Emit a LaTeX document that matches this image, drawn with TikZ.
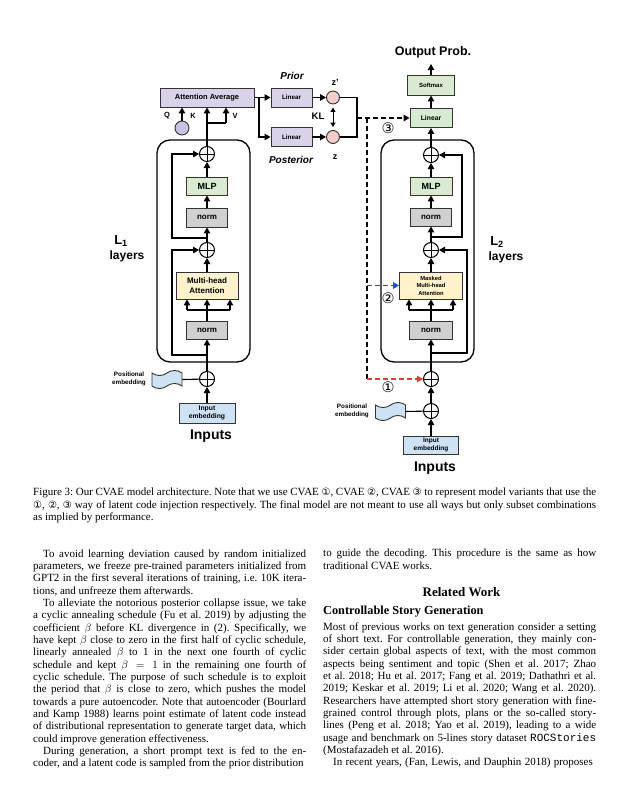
\documentclass[tikz,border=0pt]{standalone}
\usepackage{fontspec}
\setmainfont{Liberation Serif}
\setsansfont{Liberation Sans}
\setmonofont{Liberation Mono}
\newfontfamily\dejavu{DejaVu Sans}
\usetikzlibrary{arrows.meta,shapes.symbols}
\definecolor{lav}{HTML}{D9D2E9}
\definecolor{lavc}{HTML}{C9C2E2}
\definecolor{pinkc}{HTML}{F4CCCC}
\definecolor{grn}{HTML}{D9EAD3}
\definecolor{gry}{HTML}{D0D0D0}
\definecolor{yel}{HTML}{FFF2CC}
\definecolor{blu}{HTML}{CFE2F3}
\definecolor{bdr}{HTML}{333333}
\definecolor{redd}{HTML}{E53935}
\definecolor{bluu}{HTML}{1A4FD6}
\newcommand\bodyf{\fontsize{11}{12.35}\selectfont}
\newcommand\cnum[1]{{\dejavu\fontsize{10}{10}\selectfont #1}}
\frenchspacing
\tikzset{
  bx/.style={draw=bdr, line width=0.9pt, inner sep=0pt, font=\sffamily\bfseries, align=center},
  oplus/.style={circle, draw, line width=1pt, fill=white, minimum size=15pt, inner sep=0pt,
    path picture={\draw[line width=1pt] (path picture bounding box.north) -- (path picture bounding box.south)
      (path picture bounding box.west) -- (path picture bounding box.east);}},
  arr/.style={line width=1.1pt, -{Triangle[length=6pt,width=6.5pt]}},
  ln/.style={line width=1.1pt},
  dsh/.style={dash pattern=on 5pt off 3pt},
  cont/.style={draw, line width=1.3pt, rounded corners=13pt, minimum width=93pt, minimum height=222pt, inner sep=0pt},
  flag/.style={tape, draw=bdr, fill=blu, line width=0.9pt, minimum width=30pt, minimum height=18pt, tape bend height=5pt, inner sep=0pt},
  lbl/.style={inner sep=0pt, font=\sffamily\bfseries},
  txt/.style={inner sep=0pt, anchor=base west, font=\bodyf},
  cir/.style={inner sep=0pt}
}
\begin{document}
\frenchspacing
\begin{tikzpicture}[x=1pt,y=-1pt]
\fill[white] (0,0) rectangle (627,792);
\useasboundingbox (0,0) rectangle (627,792);

% ---------------- Encoder ----------------
\node[cont] (encC) at (203.5,251) {};
\node[bx, fill=lav, minimum width=94pt, minimum height=19pt, font=\sffamily\bfseries\fontsize{7.5}{8}\selectfont] (att) at (207,97.5) {Attention Average};
\node[circle, draw=bdr, line width=0.9pt, fill=lavc, minimum size=14pt, inner sep=0pt] (qk) at (182,128) {};
\node[oplus] (pE1) at (207,154) {};
\node[bx, fill=grn, minimum width=41pt, minimum height=18pt, font=\sffamily\bfseries\fontsize{9}{10}\selectfont] (mlpE) at (207,186) {MLP};
\node[bx, fill=gry, minimum width=41pt, minimum height=19pt, font=\sffamily\bfseries\fontsize{8}{9}\selectfont] (normE2) at (207,217.5) {norm};
\node[oplus] (pE2) at (207,250) {};
\node[bx, fill=yel, minimum width=62pt, minimum height=27pt, font=\sffamily\bfseries\fontsize{8}{10}\selectfont] (mhaE) at (207,285.5) {Multi-head\\Attention};
\node[bx, fill=gry, minimum width=41pt, minimum height=18pt, font=\sffamily\bfseries\fontsize{8}{9}\selectfont] (normE1) at (207,330) {norm};
\node[oplus] (pE0) at (207,379) {};
\node[flag] (peE) at (167,379.5) {};
\node[bx, fill=blu, minimum width=56pt, minimum height=20pt, font=\sffamily\bfseries\fontsize{6.8}{8.2}\selectfont] (inE) at (207,413) {Input\\embedding};

\coordinate (fE) at (207,310);
\coordinate (fEl) at (187,310);
\coordinate (fEr) at (230,310);
\coordinate (rE1) at (207,355);
\coordinate (rE1a) at (172,355);
\coordinate (rE2) at (207,238);
\coordinate (rE2a) at (172,238);
\coordinate (vb) at (207,123);
\coordinate (vb2) at (226,123);

\draw[arr] (inE) -- (pE0);
\draw[ln] (peE.east) -- (pE0);
\draw[arr] (pE0) -- (normE1);
\draw[ln] (normE1) -- (fE);
\draw[ln] (fEl) -- (fEr);
\draw[arr] (fEl) -- (fEl |- mhaE.south);
\draw[arr] (fE) -- (mhaE);
\draw[arr] (fEr) -- (fEr |- mhaE.south);
\draw[arr] (mhaE) -- (pE2);
\draw[arr] (pE2) -- (normE2);
\draw[arr] (normE2) -- (mlpE);
\draw[arr] (mlpE) -- (pE1);
\draw[arr] (pE1) -- (att);
\draw[arr] (rE1) -- (rE1a) |- (pE2.west);
\draw[arr] (rE2) -- (rE2a) |- (pE1.west);
\draw[ln] (vb) -- (vb2);
\draw[arr] (vb2) -- (vb2 |- att.south);
\draw[arr] (qk) -- (qk |- att.south);

\node[lbl, font=\sffamily\bfseries\fontsize{7.5}{8}\selectfont] (qL) at (167,116) {Q};
\node[lbl, font=\sffamily\bfseries\fontsize{7.5}{8}\selectfont] (kL) at (193,116) {K};
\node[lbl, font=\sffamily\bfseries\fontsize{7.5}{8}\selectfont] (vL) at (235,116) {V};

% ---------------- Prior / Posterior ----------------
\node[bx, fill=lav, minimum width=41pt, minimum height=19pt, font=\sffamily\bfseries\fontsize{6.3}{7}\selectfont] (linP) at (291.5,97.5) {Linear};
\node[bx, fill=lav, minimum width=41pt, minimum height=19pt, font=\sffamily\bfseries\fontsize{6.3}{7}\selectfont] (linQ) at (291.5,137) {Linear};
\node[circle, draw=bdr, line width=0.9pt, fill=pinkc, minimum size=13pt, inner sep=0pt] (zp) at (333,97.5) {};
\node[circle, draw=bdr, line width=0.9pt, fill=pinkc, minimum size=13pt, inner sep=0pt] (z) at (333,137) {};
\coordinate (br) at (259,97.5);
\draw[arr] (att) -- (linP);
\draw[arr] (br) |- (linQ.west);
\draw[arr] (linP) -- (zp);
\draw[arr] (linQ) -- (z);
\draw[line width=1pt, {Triangle[length=4.5pt,width=5pt]}-{Triangle[length=4.5pt,width=5pt]}, shorten <=3pt, shorten >=3pt] (zp) -- (z);
\coordinate (bk1) at (357,97.5);
\coordinate (bk2) at (357,137);
\draw[ln] (zp) -- (bk1) -- (bk2) -- (z);

\node[lbl, font=\sffamily\bfseries\itshape\fontsize{10}{11}\selectfont] (priorL) at (292,76) {Prior};
\node[lbl, font=\sffamily\bfseries\itshape\fontsize{10}{11}\selectfont] (postL) at (291,160) {Posterior};
\node[lbl, font=\sffamily\bfseries\fontsize{9}{10}\selectfont] (zpL) at (335,82) {z'};
\node[lbl, font=\sffamily\bfseries\fontsize{9}{10}\selectfont] (zL) at (335,157) {z};
\node[lbl, font=\sffamily\bfseries\fontsize{9.5}{10}\selectfont] (klL) at (318,116) {KL};

% ---------------- Decoder ----------------
\node[cont] (decC) at (427.5,251) {};
\node[bx, fill=grn, minimum width=47pt, minimum height=20pt, font=\sffamily\bfseries\fontsize{6}{7}\selectfont] (soft) at (431,85) {Softmax};
\node[bx, fill=grn, minimum width=42pt, minimum height=19pt, font=\sffamily\bfseries\fontsize{6.8}{7}\selectfont] (linD) at (431,118) {Linear};
\node[oplus] (pD1) at (431,155) {};
\node[bx, fill=grn, minimum width=42pt, minimum height=18pt, font=\sffamily\bfseries\fontsize{9}{10}\selectfont] (mlpD) at (431,186) {MLP};
\node[bx, fill=gry, minimum width=41pt, minimum height=18pt, font=\sffamily\bfseries\fontsize{8}{9}\selectfont] (normD2) at (431,217) {norm};
\node[oplus] (pD2) at (431,250) {};
\node[bx, fill=yel, minimum width=63pt, minimum height=27pt, font=\sffamily\bfseries\fontsize{5.8}{7.5}\selectfont] (mmaD) at (431,285.5) {Masked\\Multi-head\\Attention};
\node[bx, fill=gry, minimum width=43pt, minimum height=18pt, font=\sffamily\bfseries\fontsize{8}{9}\selectfont] (normD1) at (431,330) {norm};
\node[oplus] (pD0) at (431,379) {};
\node[oplus] (pDp) at (431,411) {};
\node[flag] (peD) at (390.5,411.5) {};
\node[bx, fill=blu, minimum width=55pt, minimum height=18pt, font=\sffamily\bfseries\fontsize{6.5}{7.5}\selectfont] (inD) at (431,445) {Input\\embedding};
\coordinate (outP) at (431,64);

\coordinate (fD) at (431,310);
\coordinate (fDl) at (409,310);
\coordinate (fDr) at (453,310);
\coordinate (rD1) at (431,353);
\coordinate (rD1a) at (467,353);
\coordinate (rD2) at (431,237);
\coordinate (rD2a) at (462,237);

\draw[arr] (inD) -- (pDp);
\draw[ln] (peD.east) -- (pDp);
\draw[arr] (pDp) -- (pD0);
\draw[arr] (pD0) -- (normD1);
\draw[ln] (normD1) -- (fD);
\draw[ln] (fDl) -- (fDr);
\draw[arr] (fDl) -- (fDl |- mmaD.south);
\draw[arr] (fD) -- (mmaD);
\draw[arr] (fDr) -- (fDr |- mmaD.south);
\draw[arr] (mmaD) -- (pD2);
\draw[arr] (pD2) -- (normD2);
\draw[arr] (normD2) -- (mlpD);
\draw[arr] (mlpD) -- (pD1);
\draw[arr] (pD1) -- (linD);
\draw[arr] (linD) -- (soft);
\draw[arr] (soft) -- (outP);
\draw[arr] (rD1) -- (rD1a) |- (pD2.east);
\draw[arr] (rD2) -- (rD2a) |- (pD1.east);

% latent injections
\coordinate (dm) at (357,118);
\coordinate (dv) at (367,118);
\coordinate (dvb) at (367,379);
\coordinate (dvm) at (367,285.5);
\draw[arr, dsh] (dm) -- (linD);
\draw[ln, dsh] (dv) -- (dvb);
\draw[arr, dsh, color=redd] (dvb) -- (pD0);
\draw[arr, dsh, color=bluu] (dvm) -- (mmaD);

\node[cir, font=\dejavu\fontsize{14.5}{14.5}\selectfont] (c3) at (388,128) {③};
\node[cir, font=\dejavu\fontsize{14.5}{14.5}\selectfont] (c2) at (388,298) {②};
\node[cir, font=\dejavu\fontsize{14.5}{14.5}\selectfont] (c1) at (388,387) {①};

% labels
\node[lbl, font=\sffamily\bfseries\fontsize{12.5}{14}\selectfont] (outL) at (433,52) {Output Prob.};
\node[lbl, font=\sffamily\bfseries\fontsize{14}{16}\selectfont] (inpE) at (211,436) {Inputs};
\node[lbl, font=\sffamily\bfseries\fontsize{14}{16}\selectfont] (inpD) at (435,468) {Inputs};
\node[lbl, align=center, font=\sffamily\bfseries\fontsize{6.3}{8}\selectfont] (peEL) at (129,379) {Positional\\embedding};
\node[lbl, align=center, font=\sffamily\bfseries\fontsize{6.3}{8}\selectfont] (peDL) at (352,411) {Positional\\embedding};
\node[lbl, font=\sffamily\bfseries\fontsize{13}{14}\selectfont] (l1a) at (121,241) {L\textsubscript{1}};
\node[lbl, font=\sffamily\bfseries\fontsize{12}{14}\selectfont] (l1b) at (127,256) {layers};
\node[lbl, font=\sffamily\bfseries\fontsize{13}{14}\selectfont] (l2a) at (497,242) {L\textsubscript{2}};
\node[lbl, font=\sffamily\bfseries\fontsize{12}{14}\selectfont] (l2b) at (506,257) {layers};

% ---------------- Caption ----------------
\node[txt] (cap1) at (33,495.5) {\makebox[563pt][s]{Figure 3: Our CVAE model architecture. Note that we use CVAE \cnum{①}, CVAE \cnum{②}, CVAE \cnum{③} to represent model variants that use the}};
\node[txt] (cap2) at (33,508) {\makebox[563pt][s]{\cnum{①}, \cnum{②}, \cnum{③} way of latent code injection respectively. The final model are not meant to use all ways but only subset combinations}};
\node[txt] (cap3) at (33,520.5) {as implied by performance.};

% ---------------- Left column ----------------
\foreach \ltxt [count=\i from 0] in {
{\hspace*{10pt}To avoid learning deviation caused by random initialized},
{parameters, we freeze pre-trained parameters initialized from},
{GPT2 in the first several iterations of training, i.e. 10K itera-},
{tions, and unfreeze them afterwards.\hfill},
{\hspace*{10pt}To alleviate the notorious posterior collapse issue, we take},
{a cyclic annealing schedule (Fu et al. 2019) by adjusting the},
{coefficient $\beta$ before KL divergence in (2). Specifically, we},
{have kept $\beta$ close to zero in the first half of cyclic schedule,},
{linearly annealed $\beta$ to 1 in the next one fourth of cyclic},
{schedule and kept $\beta = 1$ in the remaining one fourth of},
{cyclic schedule. The purpose of such schedule is to exploit},
{the period that $\beta$ is close to zero, which pushes the model},
{towards a pure autoencoder. Note that autoencoder (Bourlard},
{and Kamp 1988) learns point estimate of latent code instead},
{of distributional representation to generate target data, which},
{could improve generation effectiveness.\hfill},
{\hspace*{10pt}During generation, a short prompt text is fed to the en-},
{coder, and a latent code is sampled from the prior distribution}
}{\node[txt] (la\i) at (33,{557+12.35*\i}) {\makebox[273pt][s]{\ltxt}};}

% ---------------- Right column ----------------
\node[txt] (ra0) at (323,556.5) {\makebox[273pt][s]{to guide the decoding. This procedure is the same as how}};
\node[txt] (ra1) at (323,569) {traditional CVAE works.};
\node[inner sep=0pt, anchor=base, font=\bfseries\fontsize{13}{15}\selectfont] (relW) at (461.5,596) {Related Work};
\node[inner sep=0pt, anchor=base west, font=\bfseries\fontsize{12.3}{14}\selectfont] (csg) at (323,614) {Controllable Story Generation};
\foreach \ltxt [count=\i from 0] in {
{Most of previous works on text generation consider a setting},
{of short text. For controllable generation, they mainly con-},
{sider certain global aspects of text, with the most common},
{aspects being sentiment and topic (Shen et al. 2017; Zhao},
{et al. 2018; Hu et al. 2017; Fang et al. 2019; Dathathri et al.},
{2019; Keskar et al. 2019; Li et al. 2020; Wang et al. 2020).},
{Researchers have attempted short story generation with fine-},
{grained control through plots, plans or the so-called story-},
{lines (Peng et al. 2018; Yao et al. 2019), leading to a wide},
{usage and benchmark on 5-lines story dataset \texttt{ROCStories}},
{(Mostafazadeh et al. 2016).\hfill},
{\hspace*{10pt}In recent years, (Fan, Lewis, and Dauphin 2018) proposes}
}{\node[txt] (rb\i) at (323,{630+12.35*\i}) {\makebox[273pt][s]{\ltxt}};}
\end{tikzpicture}
\end{document}
